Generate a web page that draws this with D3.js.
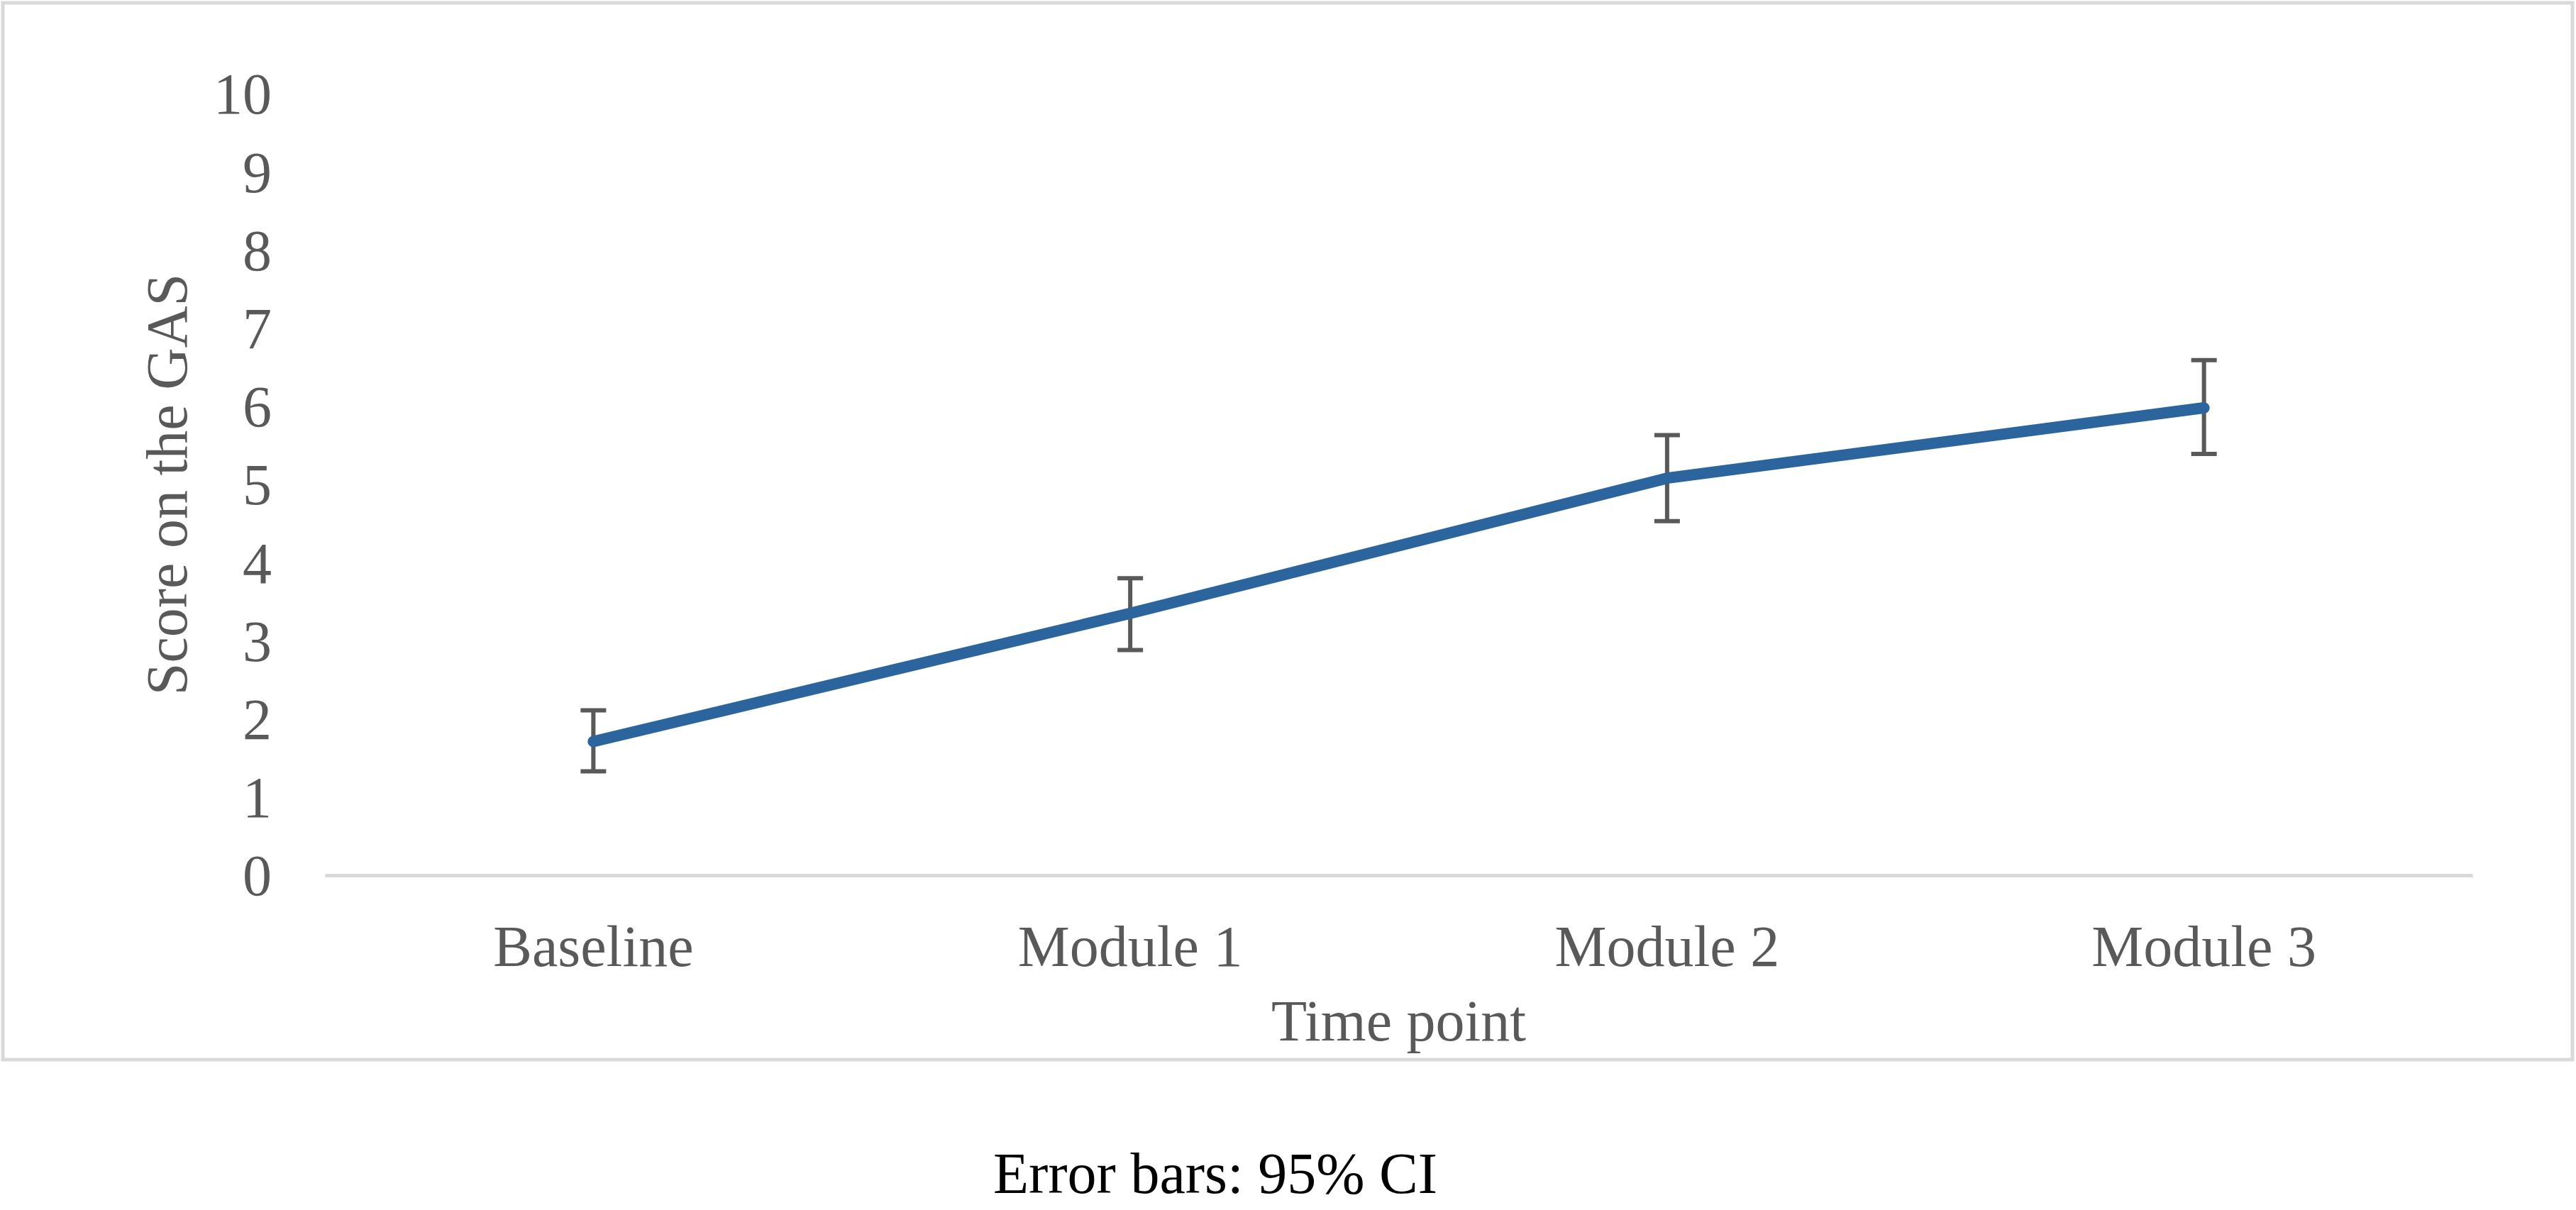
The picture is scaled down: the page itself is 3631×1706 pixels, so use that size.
<!DOCTYPE html>
<html>
<head>
<meta charset="utf-8">
<script src="https://cdn.jsdelivr.net/npm/d3@7"></script>
<style>
    body { margin: 0; background: white; }
    svg { display: block; }
</style>
</head>
<body>
<div id="chart"></div>
<script>
// data
const timePoints = ["Baseline", "Module 1", "Module 2", "Module 3"];
const meanScores = [1.71, 3.35, 5.08, 5.98];
const ciLower = [1.33, 2.88, 4.53, 5.39];
const ciUpper = [2.11, 3.80, 5.63, 6.59];
const yTicks = [0, 1, 2, 3, 4, 5, 6, 7, 8, 9, 10];

const width = 3631;
const height = 1706;
const margin = { top: 132, right: 146, bottom: 472, left: 458 };

const fontFamily = "'Liberation Serif', 'Times New Roman', serif";
const textGray = "#595959";
const lineBlue = "#2c659e";

const svg = d3.select("#chart")
    .append("svg")
    .attr("width", width)
    .attr("height", height)
    .style("font-family", fontFamily);

// chart frame
svg.append("rect")
    .attr("x", 4)
    .attr("y", 4)
    .attr("width", 3622)
    .attr("height", 1490)
    .attr("fill", "white")
    .attr("stroke", "#d9d9d9")
    .attr("stroke-width", 5);

const x = d3.scaleBand()
    .domain(timePoints)
    .range([margin.left, width - margin.right])
    .padding(0);

const y = d3.scaleLinear()
    .domain([0, 10])
    .range([height - margin.bottom, margin.top]);

// y axis labels only
const yAxis = svg.append("g")
    .attr("transform", `translate(${margin.left},0)`)
    .call(d3.axisLeft(y).tickValues(yTicks).tickSize(0).tickPadding(75));

yAxis.select(".domain").remove();
yAxis.selectAll("text")
    .attr("dy", "0.34em")
    .style("font-size", "82px")
    .style("font-family", fontFamily)
    .attr("fill", textGray);

// x axis
const xAxis = svg.append("g")
    .attr("transform", `translate(0,${height - margin.bottom})`)
    .call(d3.axisBottom(x).tickSize(0).tickSizeOuter(0).tickPadding(70));

xAxis.select(".domain")
    .attr("stroke", "#d9d9d9")
    .attr("stroke-width", 5);

xAxis.selectAll("text")
    .style("font-size", "82px")
    .style("font-family", fontFamily)
    .attr("fill", textGray);

// error bars
const cx = d => x(d) + x.bandwidth() / 2;
const capHalf = 18;

const bars = svg.append("g")
    .attr("stroke", textGray)
    .attr("stroke-width", 6);

timePoints.forEach((t, i) => {
    bars.append("line")
        .attr("x1", cx(t))
        .attr("x2", cx(t))
        .attr("y1", y(ciLower[i]))
        .attr("y2", y(ciUpper[i]));

    bars.append("line")
        .attr("x1", cx(t) - capHalf)
        .attr("x2", cx(t) + capHalf)
        .attr("y1", y(ciUpper[i]))
        .attr("y2", y(ciUpper[i]));

    bars.append("line")
        .attr("x1", cx(t) - capHalf)
        .attr("x2", cx(t) + capHalf)
        .attr("y1", y(ciLower[i]))
        .attr("y2", y(ciLower[i]));
});

// mean line
const line = d3.line()
    .x((d, i) => cx(timePoints[i]))
    .y(d => y(d));

svg.append("path")
    .datum(meanScores)
    .attr("d", line)
    .attr("fill", "none")
    .attr("stroke", lineBlue)
    .attr("stroke-width", 16)
    .attr("stroke-linecap", "round")
    .attr("stroke-linejoin", "round");

// axis titles
svg.append("text")
    .attr("transform", `translate(263,${(margin.top + height - margin.bottom) / 2}) rotate(-90)`)
    .attr("text-anchor", "middle")
    .style("font-size", "82px")
    .attr("fill", textGray)
    .text("Score on the GAS");

svg.append("text")
    .attr("x", (margin.left + width - margin.right) / 2)
    .attr("y", 1467)
    .attr("text-anchor", "middle")
    .style("font-size", "82px")
    .attr("fill", textGray)
    .text("Time point");

// note under the chart
svg.append("text")
    .attr("x", 1713)
    .attr("y", 1682)
    .attr("text-anchor", "middle")
    .style("font-size", "82px")
    .attr("fill", "black")
    .text("Error bars: 95% CI");
</script>
</body>
</html>
